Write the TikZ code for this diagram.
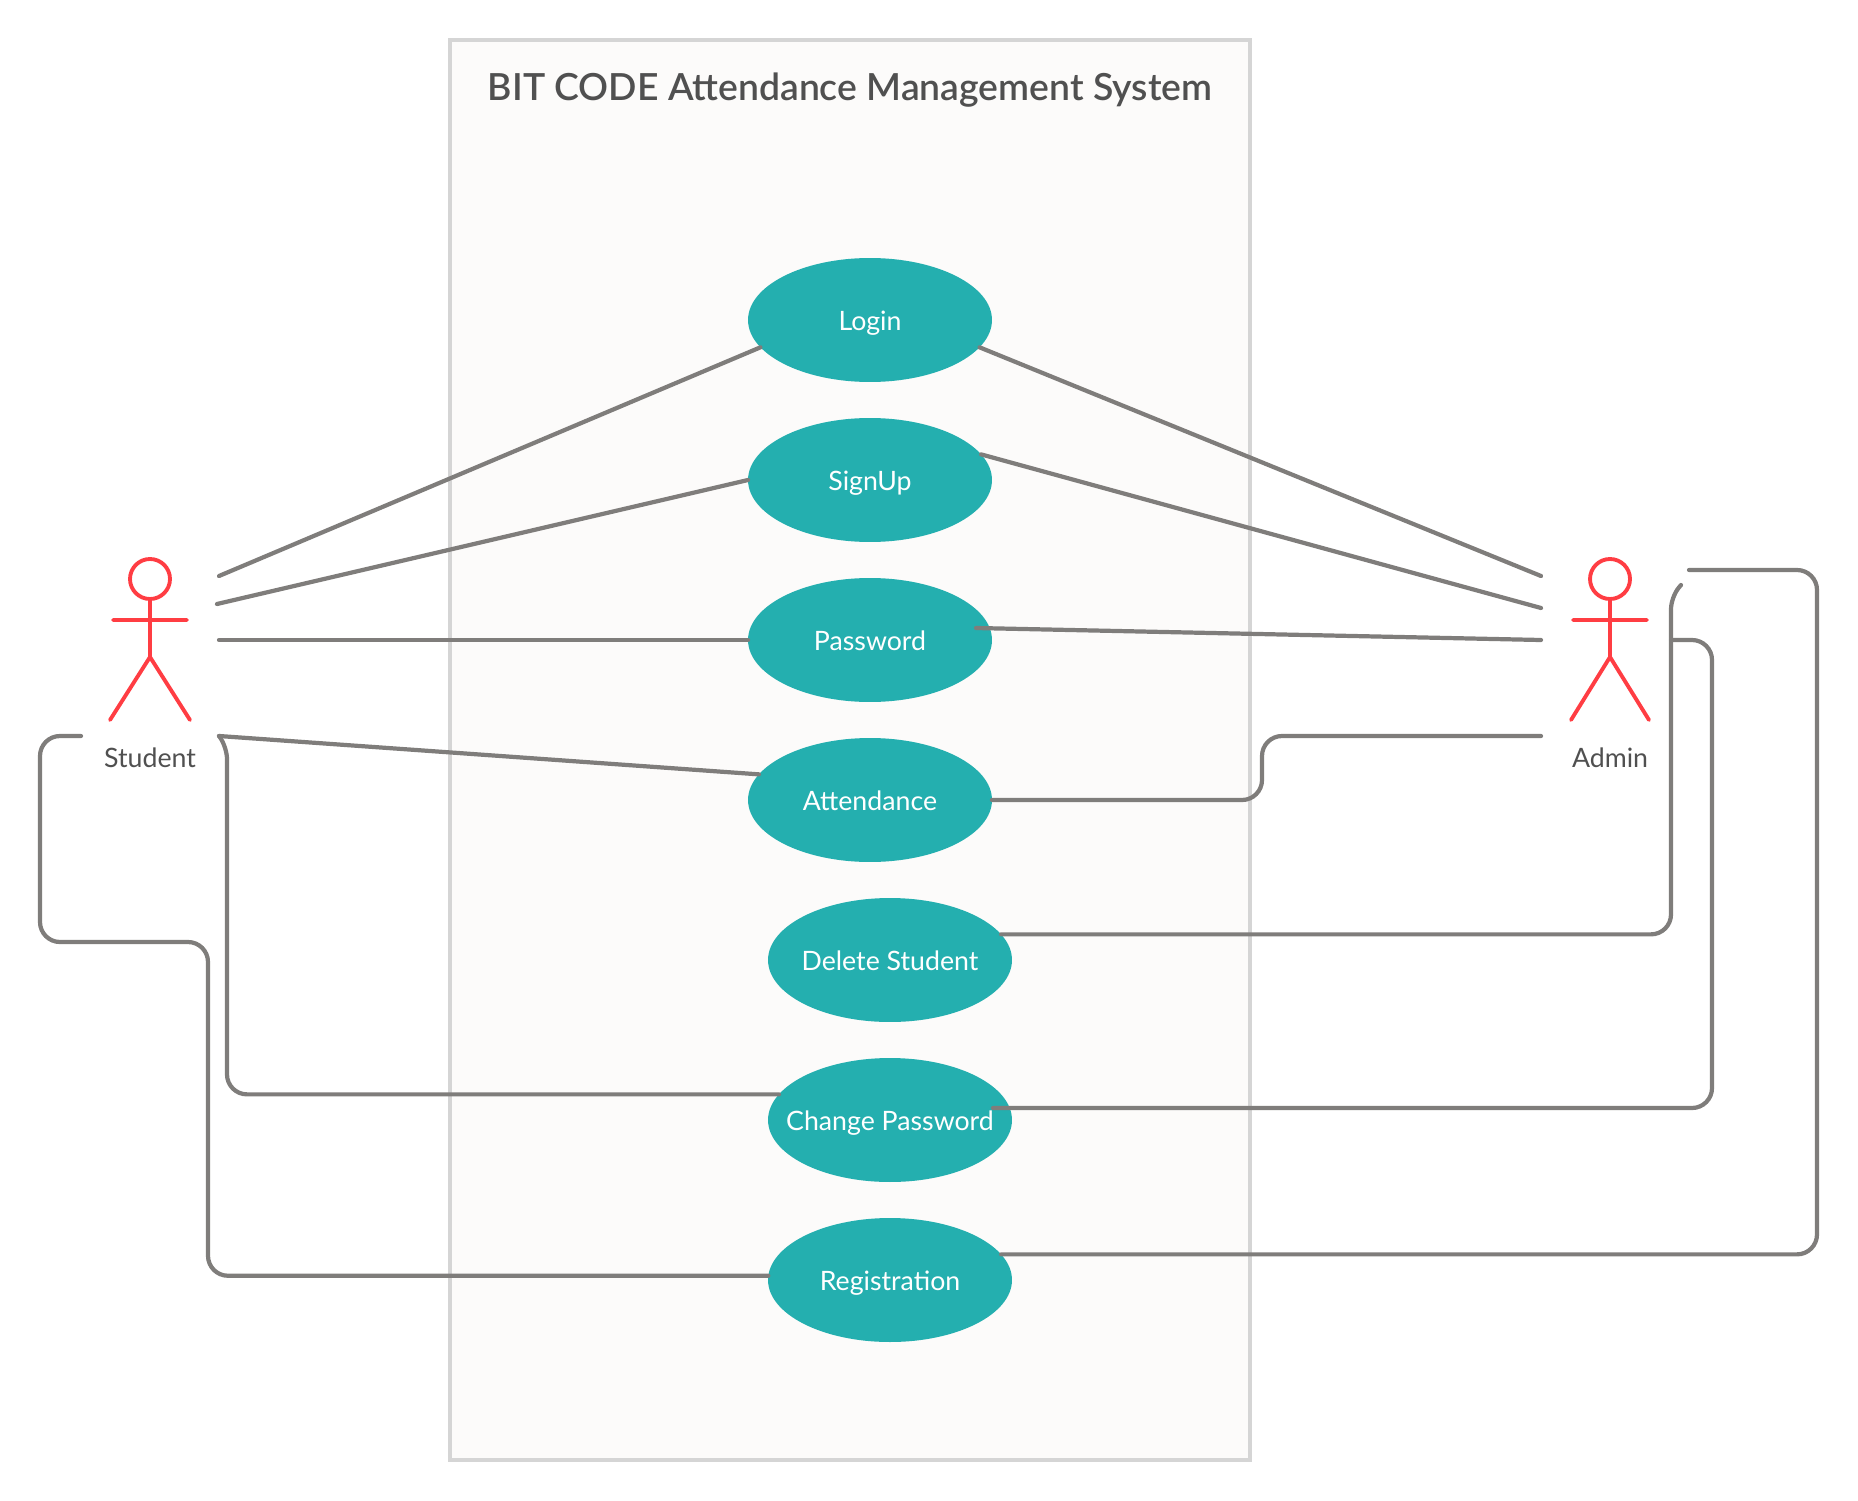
\documentclass[tikz,border=0pt]{standalone}
\usepackage{fontspec}
\setmainfont{Lato}
\newfontfamily\titlefont{Lato Semibold}
\usetikzlibrary{shapes.geometric}
\definecolor{tealfill}{HTML}{24AFAF}
\definecolor{actorred}{HTML}{FF3D43}
\definecolor{linegray}{HTML}{7F7D7B}
\definecolor{framegray}{HTML}{D5D5D5}
\definecolor{framefill}{HTML}{FCFBFA}
\definecolor{textgray}{HTML}{505050}

\begin{document}
\begin{tikzpicture}[
    x=0.02cm, y=-0.02cm,
    usecase/.style={ellipse, fill=tealfill, minimum width=4.88cm, minimum height=2.48cm, inner sep=0pt, outer sep=0pt, text=white, text height=13.3pt, text depth=1.8pt, font=\fontsize{15.2}{18}\selectfont},
    actorlabel/.style={text=textgray, font=\fontsize{15.2}{18}\selectfont, inner sep=0pt},
    actor/.style={draw=actorred, line width=2.2pt, line cap=round},
    link/.style={draw=linegray, line width=2.4pt, line cap=round, rounded corners=0.4cm}
]
\useasboundingbox (0,0) rectangle (1858,1500);

% system frame
\node[draw=framegray, fill=framefill, line width=2.4pt, minimum width=16cm, minimum height=28.4cm, inner sep=0pt] (frame) at (850,750) {};
\node[text=textgray, font=\fontsize{21.25}{26}\titlefont, inner sep=0pt] (title) at (850,90) {BIT CODE Attendance Management System};

% use cases
\node[usecase] (login) at (870,320) {Login};
\node[usecase] (signup) at (870,480) {SignUp};
\node[usecase] (password) at (870,640) {Password};
\node[usecase] (attendance) at (870,800) {Attendance};
\node[usecase] (delete) at (890,960) {\makebox[0pt]{Delete Student}};
\node[usecase] (change) at (890,1120) {\makebox[0pt]{Change Password}};
\node[usecase] (registration) at (890,1280) {Registration};

% actors
\draw[actor] (150,579) circle (20);
\draw[actor] (150,599) -- (150,657) (113,620) -- (187,620) (110,720) -- (150,657) -- (190,720);
\node[actorlabel] (student) at (150,758) {Student};
\draw[actor] (1610,579) circle (20);
\draw[actor] (1610,599) -- (1610,657) (1573,620) -- (1647,620) (1571,720) -- (1610,657) -- (1649,720);
\node[actorlabel] (admin) at (1610,758) {Admin};

% free ends
\coordinate (s1) at (219,576);
\coordinate (s2) at (217,604);
\coordinate (s3) at (219,640);
\coordinate (s4) at (219,736);
\coordinate (s5) at (81,736);
\coordinate (a1) at (1541,576);
\coordinate (a2) at (1541,608);
\coordinate (a3) at (1541,640);
\coordinate (a4) at (1541,736);
\coordinate (a5) at (1681,585);
\coordinate (a6) at (1671,640);
\coordinate (a7) at (1689,570);
\coordinate (pw) at (976,628);
\coordinate (cp) at (993,1108);
% bends
\coordinate (b1) at (227,747);
\coordinate (b2) at (208,942);
\coordinate (b3) at (1671,597);
\coordinate (b4) at (1712,640);
\coordinate (b5) at (1817,570);

% student links
\draw[link] (s1) -- (login.194);
\draw[link] (s2) -- (signup.west);
\draw[link] (s3) -- (password.west);
\draw[link] (s4) -- (attendance.167);
\draw[link] (s4) [rounded corners=0.24cm] -- (b1) [rounded corners=0.4cm] -- (change.167 -| b1) -- (change.167);
\draw[link] (s5) -- (40,736) -- (40,942) -- (b2) -- (registration.178 -| b2) -- (registration.178);

% admin links
\draw[link] (a1) -- (login.346);
\draw[link] (a2) -- (signup.13);
\draw[link] (a3) -- (pw);
\draw[link] (a4) -- (1262,736) -- (1262,800) -- (attendance.east);
\draw[link] (a5) [rounded corners=0.24cm] -- (b3) [rounded corners=0.4cm] -- (delete.13.4 -| b3) -- (delete.13.4);
\draw[link] (a6) -- (b4) -- (cp -| b4) -- (cp);
\draw[link] (a7) -- (b5) -- (registration.13.4 -| b5) -- (registration.13.4);
\end{tikzpicture}
\end{document}
